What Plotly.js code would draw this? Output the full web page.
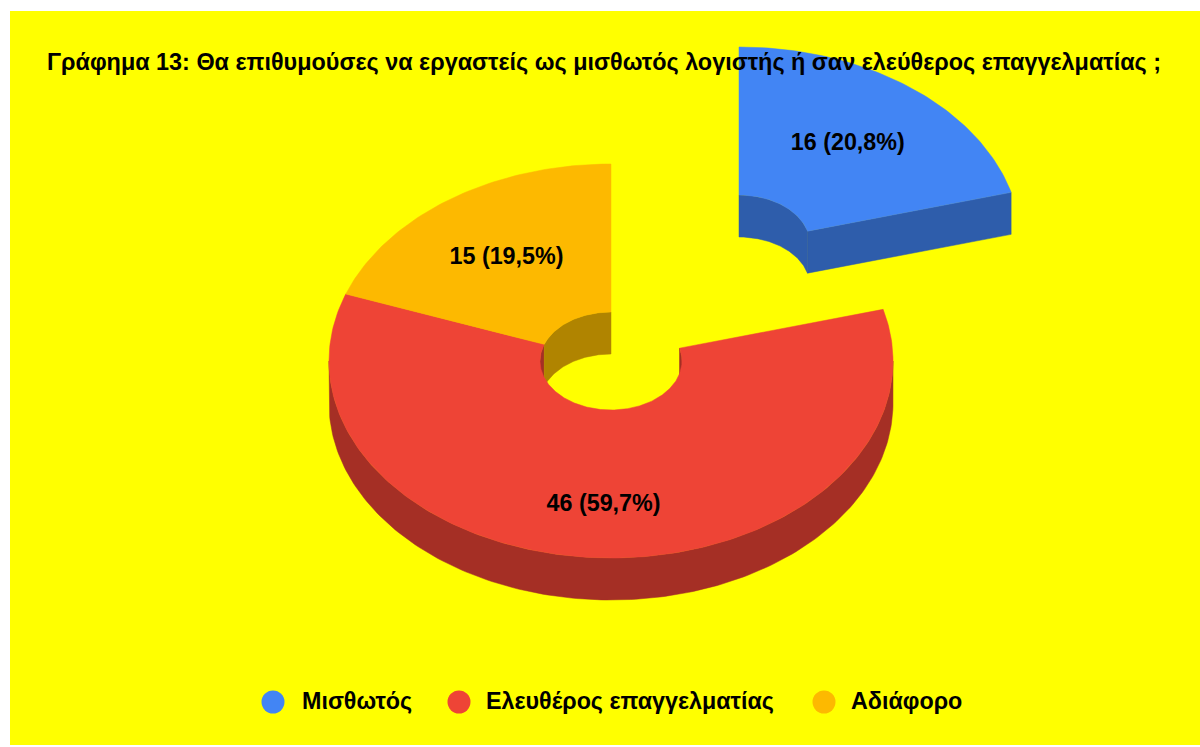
<!DOCTYPE html>
<html><head><meta charset="utf-8">
<script src="https://cdn.plot.ly/plotly-3.0.1.min.js"></script>
<style>html,body{margin:0;padding:0;background:#fff}#c{width:1200px;height:747px}</style>
</head><body><div id="c"></div>
<script>
const categories = ["Μισθωτός", "Ελευθέρος επαγγελματίας", "Αδιάφορο"];
const values = [16, 46, 15];
const valueLabels = ["16 (20,8%)", "46 (59,7%)", "15 (19,5%)"];
const chartTitle = "Γράφημα 13: Θα επιθυμούσες να εργαστείς ως μισθωτός λογιστής ή σαν ελεύθερος επαγγελματίας ;";

// styles
const topColors = ["#4285F4", "#EE4436", "#FDB900"];
const wallColors = ["#2E5DAB", "#A52F25", "#B08400"];
const FONT = "'Liberation Sans', Arial, sans-serif";

// 3D projection geometry (pixel-scale axis units)
const cx = 611, cy = 361, Rx = 282, Ry = 197, rx = 71, ry = 49, depth = 42;
const pulls = [[128, -117], [0, 0], [0, 0]];
const labelRadial = [[0.635, 0.64], [0.65, 0.733], [0.645, 0.64]];
const legendMarkerX = [273, 459, 824];
const legendTextX = [302, 486, 851];
const legendY = 702;
const legendTextY = 703;

const total = values.reduce((a, b) => a + b, 0);
const rad = d => d * Math.PI / 180;
function arc(ox, oy, ax, ay, a0, a1, dy) {
  const xs = [], ys = [];
  const n = Math.max(2, Math.ceil(Math.abs(a1 - a0)));
  for (let i = 0; i <= n; i++) {
    const a = rad(a0 + (a1 - a0) * i / n);
    xs.push(ox + ax * Math.sin(a));
    ys.push(oy - ay * Math.cos(a) + dy);
  }
  return [xs, ys];
}
function poly(parts, color) {
  let x = [], y = [];
  parts.forEach(p => { x = x.concat(p[0]); y = y.concat(p[1]); });
  x.push(x[0]); y.push(y[0]);
  return {type: "scatter", mode: "lines", x, y, fill: "toself", fillcolor: color,
          line: {color: color, width: 0.5}, hoverinfo: "skip", showlegend: false};
}
function rev(p) { return [p[0].slice().reverse(), p[1].slice().reverse()]; }

const walls = [], tops = [];
const labelX = [], labelY = [];
let start = 0;
values.forEach((v, i) => {
  const sweep = v / total * 360, end = start + sweep, mid = start + sweep / 2;
  const ox = cx + pulls[i][0], oy = cy + pulls[i][1];
  // hole wall: the far half of the hole (angles outside 90..270)
  [[start, Math.min(end, 90)], [Math.max(start, 270), end]].forEach(r => {
    if (r[1] > r[0]) walls.push(poly([arc(ox, oy, rx, ry, r[0], r[1], 0), rev(arc(ox, oy, rx, ry, r[0], r[1], depth))], wallColors[i]));
  });
  // outer wall: near half
  const w0 = Math.max(start, 90), w1 = Math.min(end, 270);
  if (w1 > w0) walls.push(poly([arc(ox, oy, Rx, Ry, w0, w1, 0), rev(arc(ox, oy, Rx, Ry, w0, w1, depth))], wallColors[i]));
  // radial cut face at the end of a slice facing the viewer
  if (start < 90 && end < 90) {
    const a = arc(ox, oy, rx, ry, end, end, 0), b = arc(ox, oy, Rx, Ry, end, end, 0);
    walls.push(poly([[[a[0][0], b[0][0], b[0][0], a[0][0]], [a[1][0], b[1][0], b[1][0] + depth, a[1][0] + depth]]], wallColors[i]));
  }
  tops.push(poly([arc(ox, oy, Rx, Ry, start, end, 0), rev(arc(ox, oy, rx, ry, start, end, 0))], topColors[i]));
  labelX.push(ox + Rx * labelRadial[i][0] * Math.sin(rad(mid)));
  labelY.push(oy - Ry * labelRadial[i][1] * Math.cos(rad(mid)));
  start = end;
});

const labelTrace = {type: "scatter", mode: "text", x: labelX, y: labelY, text: valueLabels,
  textposition: "middle center", textfont: {family: FONT, size: 23.3, color: "#000", weight: 700},
  hoverinfo: "skip", showlegend: false};
const legendMarks = {type: "scatter", mode: "markers", x: legendMarkerX, y: categories.map(() => legendY),
  marker: {size: 23, color: topColors, line: {width: 0}}, hoverinfo: "skip", showlegend: false};
const legendText = {type: "scatter", mode: "text", x: legendTextX, y: categories.map(() => legendTextY), text: categories,
  textposition: "middle right", textfont: {family: FONT, size: 23.3, color: "#000", weight: 700},
  hoverinfo: "skip", showlegend: false};

const hidden = {visible: false, fixedrange: true};
Plotly.newPlot("c", walls.concat(tops, [labelTrace, legendMarks, legendText]), {
  width: 1200, height: 747, showlegend: false,
  paper_bgcolor: "#ffffff", plot_bgcolor: "#FFFF00",
  margin: {l: 10, r: 0, t: 11, b: 2, pad: 0},
  xaxis: Object.assign({range: [10, 1200]}, hidden),
  yaxis: Object.assign({range: [745, 11]}, hidden),
  title: {text: "<b>" + chartTitle + "</b>", x: 604 / 1200, xanchor: "center", y: 1 - 62 / 747, yanchor: "middle",
          font: {family: FONT, size: 23.4, color: "#000"}}
}, {staticPlot: true, displayModeBar: false});
</script></body></html>
